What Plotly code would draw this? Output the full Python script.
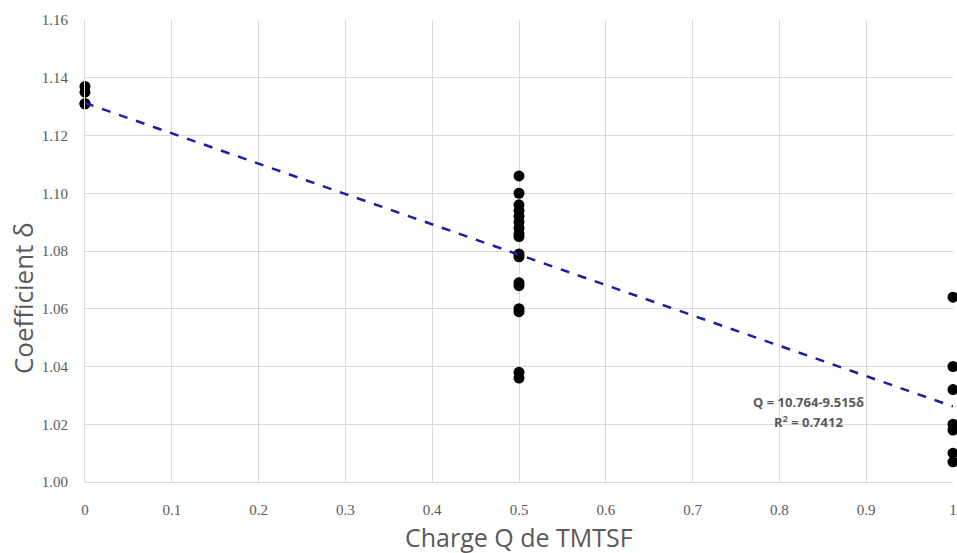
import plotly.graph_objects as go

# Data
q_values = [0, 0, 0, 0,
            0.5, 0.5, 0.5, 0.5, 0.5, 0.5, 0.5, 0.5, 0.5, 0.5, 0.5, 0.5, 0.5, 0.5, 0.5, 0.5, 0.5,
            1, 1, 1, 1, 1, 1, 1]
delta_values = [1.137, 1.135, 1.131, 1.131,
                1.106, 1.100, 1.096, 1.094, 1.092, 1.090, 1.088, 1.086, 1.085, 1.079, 1.078,
                1.069, 1.068, 1.060, 1.059, 1.038, 1.036,
                1.064, 1.040, 1.032, 1.020, 1.018, 1.010, 1.007]

# Trendline Q = a - b*delta  ->  delta = (a - Q)/b
fit_a = 10.764
fit_b = 9.515
fit_r2 = 0.7412
trend_x = [0, 1]
trend_y = [(fit_a - x) / fit_b for x in trend_x]

x_ticks = [0, 0.1, 0.2, 0.3, 0.4, 0.5, 0.6, 0.7, 0.8, 0.9, 1]
x_tick_text = ["0", "0.1", "0.2", "0.3", "0.4", "0.5", "0.6", "0.7", "0.8", "0.9", "1"]
y_ticks = [1.00, 1.02, 1.04, 1.06, 1.08, 1.10, 1.12, 1.14, 1.16]

x_title = "Charge Q de TMTSF"
y_title = "Coefficient δ"

grid = "#d9d9d9"
tick_font = dict(family="Liberation Serif", size=15, color="#595959")
title_font = dict(family="Open Sans", size=25, color="#595959")
label_font = dict(family="Open Sans", size=13, color="#595959")

fig = go.Figure()
fig.add_trace(go.Scatter(
    x=q_values, y=delta_values, mode="markers",
    marker=dict(color="black", size=11),
    cliponaxis=False, showlegend=False))
fig.add_trace(go.Scatter(
    x=trend_x, y=trend_y, mode="lines",
    line=dict(color="#1c1ca8", width=2.5, dash="dash"),
    cliponaxis=False, showlegend=False))

# Trendline labels (two lines)
fig.add_annotation(
    x=0.833, y=1.0277, xref="x", yref="y",
    text=f"<b>Q = {fit_a}-{fit_b}δ</b>",
    showarrow=False, align="center", font=label_font)
fig.add_annotation(
    x=0.833, y=1.0211, xref="x", yref="y",
    text=f"<b>R<sup>2</sup> = {fit_r2}</b>",
    showarrow=False, align="center", font=label_font)

# Axis titles
fig.add_annotation(
    x=0.5, y=0, xref="paper", yref="paper", xanchor="center", yanchor="middle",
    yshift=-55, text=x_title, showarrow=False, font=title_font)
fig.add_annotation(
    x=0, y=0.398, xref="paper", yref="paper", xanchor="center", yanchor="middle",
    xshift=-62, textangle=-90, text=y_title, showarrow=False,
    font=dict(family="Open Sans", size=26, color="#595959"))

fig.update_layout(
    width=957, height=553,
    paper_bgcolor="white", plot_bgcolor="white",
    margin=dict(l=85, r=4, t=20, b=71, autoexpand=False),
    xaxis=dict(
        range=[0, 1], tickvals=x_ticks, ticktext=x_tick_text,
        showgrid=True, gridcolor=grid, gridwidth=1,
        zeroline=False, showline=True, linecolor=grid,
        ticks="outside", ticklen=14, tickcolor="rgba(0,0,0,0)",
        tickfont=tick_font, automargin=False, ticklabeloverflow="allow"),
    yaxis=dict(
        range=[1.00, 1.16], tickvals=y_ticks, tickformat=".2f",
        showgrid=True, gridcolor=grid, gridwidth=1,
        zeroline=False, showline=True, linecolor=grid,
        ticks="outside", ticklen=13, tickcolor="rgba(0,0,0,0)",
        tickfont=tick_font, automargin=False, ticklabeloverflow="allow"),
)

fig.write_html(
    "out.html",
    config={"displayModeBar": False},
    post_script="document.body.style.margin='0';document.body.style.overflow='hidden';")
